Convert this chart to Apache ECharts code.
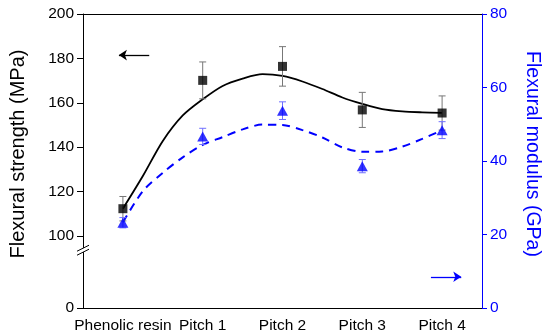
<!DOCTYPE html>
<html><head><meta charset="utf-8">
<script src="https://cdn.jsdelivr.net/npm/echarts@6/dist/echarts.min.js"></script>
<style>html,body{margin:0;padding:0;background:#fff}#c{width:550px;height:336px}</style>
</head><body><div id="c"></div>
<script>
// ---- data ----
const categories = ['Phenolic resin', 'Pitch 1', 'Pitch 2', 'Pitch 3', 'Pitch 4'];
const strength = [112.3, 170.1, 176.4, 156.8, 155.4];      // MPa
const strengthErr = [5.5, 8.3, 8.9, 7.9, 7.7];
const modulus = [23.2, 46.7, 53.7, 38.6, 48.4];             // GPa
const modulusErr = [1.4, 2.2, 2.4, 1.8, 2.3];
// fitted curves, read at quarter-category positions
const fitX = [0, 0.25, 0.5, 0.75, 1, 1.25, 1.5, 1.75, 2, 2.25, 2.5, 2.75, 3, 3.25, 3.5, 3.75, 4];
const strengthFit = [112.3, 127.0, 142.8, 154.3, 161.6, 167.6, 170.9, 172.9, 172.1, 169.6, 166.2, 162.4, 159.5, 157.1, 156.1, 155.7, 155.5];
const modulusFit = [23.3, 31.8, 36.8, 41.0, 44.4, 46.5, 48.6, 49.9, 49.8, 48.4, 46.4, 43.7, 42.5, 42.6, 43.9, 46.0, 48.4];
// left axis: broken axis, 0 at bottom, then 100..200
const leftTicks = [100, 120, 140, 160, 180, 200];
const leftBreakBottom = 67.57;   // axis value placed at the bottom, labelled "0"
const rightTicks = [0, 20, 40, 60, 80];
// arrows [x, y] in axis units
const blackArrow = [[0.33, 181.5], [-0.05, 181.5]];
const blueArrow = [[3.86, 8.5], [4.24, 8.5]];

const BLUE = '#0000ff';
const FONT = 'Liberation Sans, Arial, sans-serif';

const chart = echarts.init(document.getElementById('c'));

function errBar(color) {
  return function (params, api) {
    const x = api.value(0), lo = api.value(1), hi = api.value(2);
    const pLo = api.coord([x, lo]);
    const pHi = api.coord([x, hi]);
    const w = 3.5;
    const st = { stroke: color, lineWidth: 1 };
    return { type: 'group', children: [
      { type: 'line', shape: { x1: pLo[0], y1: pLo[1], x2: pHi[0], y2: pHi[1] }, style: st },
      { type: 'line', shape: { x1: pLo[0] - w, y1: pLo[1], x2: pLo[0] + w, y2: pLo[1] }, style: st },
      { type: 'line', shape: { x1: pHi[0] - w, y1: pHi[1], x2: pHi[0] + w, y2: pHi[1] }, style: st }
    ]};
  };
}

chart.setOption({
  animation: false,
  backgroundColor: '#fff',
  textStyle: { fontFamily: FONT },
  grid: { left: 81, right: 67, top: 14, bottom: 28, containLabel: false },
  xAxis: [
    { type: 'category', data: categories, boundaryGap: true,
      axisLine: { onZero: false, lineStyle: { color: '#000', width: 1 } },
      axisTick: { alignWithLabel: true, length: 5, lineStyle: { color: '#000' } },
      axisLabel: { color: '#000', fontSize: 15.5, margin: 10, fontFamily: FONT, interval: 0 },
      splitLine: { show: false } },
    { type: 'value', min: -0.5, max: 4.5, position: 'top',
      axisLine: { show: true, onZero: false, lineStyle: { color: '#000', width: 1 } },
      axisTick: { show: false }, axisLabel: { show: false }, splitLine: { show: false } }
  ],
  yAxis: [
    { type: 'value', min: leftBreakBottom, max: 200, position: 'left',
      name: 'Flexural strength (MPa)', nameLocation: 'middle', nameRotate: 90, nameGap: 55,
      nameTextStyle: { color: '#000', fontSize: 20, fontFamily: FONT, padding: [0, 0, 0, 14] },
      axisLine: { show: true, onZero: false, lineStyle: { color: '#000', width: 1 } },
      axisTick: { show: true, length: 6, customValues: [leftBreakBottom].concat(leftTicks), lineStyle: { color: '#000' } },
      axisLabel: { color: '#000', fontSize: 15.5, margin: 9, fontFamily: FONT,
        customValues: [leftBreakBottom].concat(leftTicks),
        formatter: v => (v < 100 ? '0' : String(Math.round(v))) },
      splitLine: { show: false } },
    { type: 'value', min: rightTicks[0], max: rightTicks[rightTicks.length - 1], interval: 20, position: 'right',
      name: 'Flexural modulus (GPa)', nameLocation: 'middle', nameRotate: -90, nameGap: 40,
      nameTextStyle: { color: BLUE, fontSize: 19.5, fontFamily: FONT, padding: [0, 14, 0, 0] },
      axisLine: { show: true, onZero: false, lineStyle: { color: BLUE, width: 1 } },
      axisTick: { show: true, length: 5, lineStyle: { color: BLUE } },
      axisLabel: { color: BLUE, fontSize: 15.5, margin: 8, fontFamily: FONT },
      splitLine: { show: false } }
  ],
  series: [
    { type: 'line', name: 'strength fit', xAxisIndex: 1, yAxisIndex: 0,
      data: fitX.map((x, i) => [x, strengthFit[i]]), smooth: 0.3, showSymbol: false, symbol: 'none',
      lineStyle: { color: '#000', width: 1.8 }, z: 2, silent: true,
      markLine: { silent: true, symbol: ['none', 'arrow'], symbolSize: 8, label: { show: false },
        lineStyle: { color: '#000', width: 1.3, type: 'solid' },
        data: [[{ coord: blackArrow[0] }, { coord: blackArrow[1] }]] } },
    { type: 'line', name: 'modulus fit', xAxisIndex: 1, yAxisIndex: 1,
      data: fitX.map((x, i) => [x, modulusFit[i]]), smooth: 0.3, showSymbol: false, symbol: 'none',
      lineStyle: { color: BLUE, width: 2, type: [8, 6] }, z: 2, silent: true,
      markLine: { silent: true, symbol: ['none', 'arrow'], symbolSize: 8, label: { show: false },
        lineStyle: { color: BLUE, width: 1.3, type: 'solid' },
        data: [[{ coord: blueArrow[0] }, { coord: blueArrow[1] }]] } },
    { type: 'custom', name: 'strength err', xAxisIndex: 0, yAxisIndex: 0, z: 3,
      renderItem: errBar('#777'),
      data: strength.map((v, i) => [i, v - strengthErr[i], v + strengthErr[i]]) },
    { type: 'custom', name: 'modulus err', xAxisIndex: 0, yAxisIndex: 1, z: 3,
      renderItem: errBar('#6f6fff'),
      data: modulus.map((v, i) => [i, v - modulusErr[i], v + modulusErr[i]]) },
    { type: 'scatter', name: 'Flexural strength', xAxisIndex: 0, yAxisIndex: 0, z: 4,
      symbol: 'rect', symbolSize: 9, itemStyle: { color: '#000' }, data: strength },
    { type: 'scatter', name: 'Flexural modulus', xAxisIndex: 0, yAxisIndex: 1, z: 4,
      symbol: 'triangle', symbolSize: [11, 10], itemStyle: { color: BLUE }, data: modulus }
  ]
});

// axis-break mark "//" on the left axis
const bx = chart.convertToPixel({ xAxisIndex: 1 }, -0.5);
const by = chart.convertToPixel({ yAxisIndex: 0 }, 93.6);
chart.setOption({ graphic: [
  { type: 'polygon', shape: { points: [[bx - 6, by + 1], [bx + 6, by - 5], [bx + 6, by - 1], [bx - 6, by + 5]] },
    style: { fill: '#fff' }, z: 10 },
  { type: 'line', shape: { x1: bx - 6, y1: by + 1, x2: bx + 6, y2: by - 5 }, style: { stroke: '#000', lineWidth: 1 }, z: 11 },
  { type: 'line', shape: { x1: bx - 6, y1: by + 5, x2: bx + 6, y2: by - 1 }, style: { stroke: '#000', lineWidth: 1 }, z: 11 }
]});
</script></body></html>
